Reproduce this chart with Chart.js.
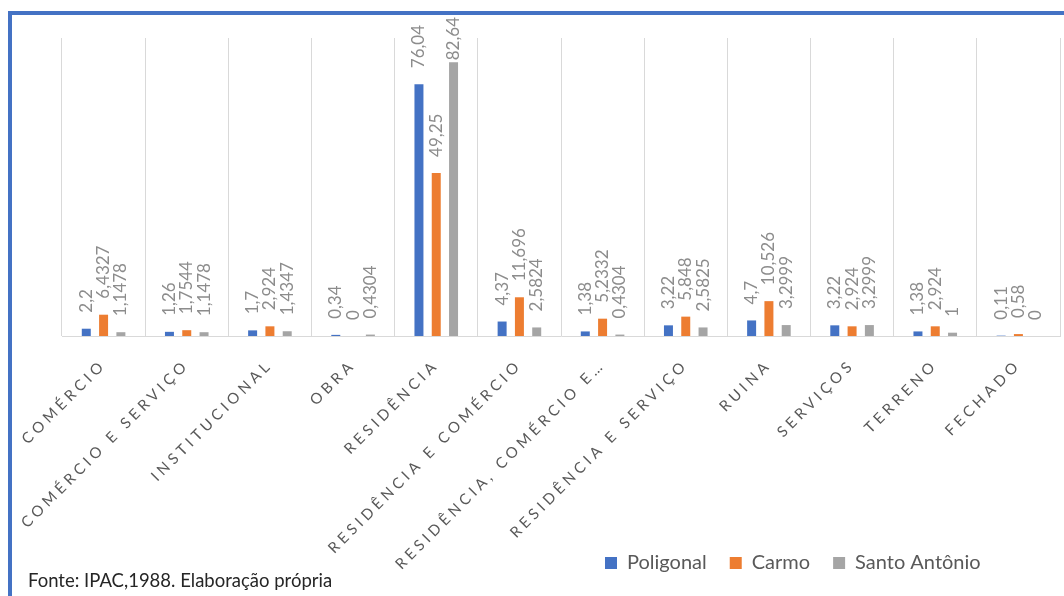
<!DOCTYPE html>
<html>
<head>
<meta charset="utf-8">
<script src="https://cdn.jsdelivr.net/npm/chart.js@4"></script>
<style>
  html, body { margin: 0; padding: 0; background: #fff; overflow: hidden; }
  #wrap { position: relative; width: 1064px; height: 596px; }
  #frame {
    position: absolute; left: 8px; top: 11px; width: 1100px; height: 640px;
    border-left: 4px solid #4472C4; border-top: 4px solid #4472C4;
    pointer-events: none;
  }
  #source {
    position: absolute; left: 28px; top: 569px;
    font-family: Lato, 'Noto Sans', sans-serif; font-size: 18.5px; color: #262626;
  }
</style>
</head>
<body>
<div id="wrap">
  <canvas id="usage-chart" width="1064" height="596"></canvas>
  <div id="frame"></div>
  <div id="source">Fonte: IPAC,1988. Elaboração própria</div>
</div>
<script>
/**
 * Uso do solo - Poligonal, Carmo e Santo Antônio (%)
 */

const categories = [
  'COMÉRCIO', 'COMÉRCIO E SERVIÇO', 'INSTITUCIONAL', 'OBRA', 'RESIDÊNCIA',
  'RESIDÊNCIA E COMÉRCIO', 'RESIDÊNCIA, COMÉRCIO E…', 'RESIDÊNCIA E SERVIÇO',
  'RUINA', 'SERVIÇOS', 'TERRENO', 'FECHADO'
];
const poligonal = [2.2, 1.26, 1.7, 0.34, 76.04, 4.37, 1.38, 3.22, 4.7, 3.22, 1.38, 0.11];
const carmo = [6.4327, 1.7544, 2.924, 0, 49.25, 11.696, 5.2332, 5.848, 10.526, 2.924, 2.924, 0.58];
const santoAntonio = [1.1478, 1.1478, 1.4347, 0.4304, 82.64, 2.5824, 0.4304, 2.5825, 3.2999, 3.2999, 1, 0];
const seriesNames = ['Poligonal', 'Carmo', 'Santo Antônio'];

const colors = {
  blue: '#4472C4',
  orange: '#ED7D31',
  gray: '#A5A5A5',
  grid: '#D9D9D9',
  axisText: '#595959',
  valueText: '#8C8C8C'
};
const fontFamily = "Lato, 'Noto Sans', sans-serif";

// category axis with spaced capitals, like the office chart style
class SpacedCategoryScale extends Chart.CategoryScale {
  _computeLabelArea() {
    return undefined; // let long labels run past the axis box
  }
  drawLabels(area) {
    const ctx = this.ctx;
    ctx.save();
    ctx.letterSpacing = '4px';
    super.drawLabels(area);
    ctx.restore();
  }
}
SpacedCategoryScale.id = 'spacedCategory';
SpacedCategoryScale.defaults = Chart.CategoryScale.defaults;
Chart.register(SpacedCategoryScale);

// value labels written vertically above each bar
const valueLabels = {
  id: 'valueLabels',
  afterDatasetsDraw(chart) {
    const ctx = chart.ctx;
    ctx.save();
    ctx.font = '17px ' + fontFamily;
    ctx.fillStyle = colors.valueText;
    ctx.textAlign = 'left';
    ctx.textBaseline = 'middle';
    chart.data.datasets.forEach((ds, i) => {
      const meta = chart.getDatasetMeta(i);
      meta.data.forEach((bar, j) => {
        const text = String(ds.data[j]).replace('.', ',');
        const w = ctx.measureText(text).width;
        let bottom = bar.y - 16;
        if (bottom - w < 17) bottom = 17 + w;
        ctx.save();
        ctx.translate(bar.x, bottom);
        ctx.rotate(-Math.PI / 2);
        ctx.fillText(text, 0, 0);
        ctx.restore();
      });
    });
    ctx.restore();
  }
};

// move legend to the lower right, as in the source figure
const legendPlace = {
  id: 'legendPlace',
  afterLayout(chart) {
    const lg = chart.legend;
    const pad = lg.options.labels.padding;
    lg.left = 605 - pad;
    lg.right = chart.width;
    lg.top = 563 - pad - 10;
    lg.bottom = lg.top + lg.height;
  }
};

const chartHeight = 596;
const plotBottom = 336;
const padBottom = 4;

new Chart(document.getElementById('usage-chart'), {
  type: 'bar',
  data: {
    labels: categories,
    datasets: [
      { label: seriesNames[0], data: poligonal, backgroundColor: colors.blue },
      { label: seriesNames[1], data: carmo, backgroundColor: colors.orange },
      { label: seriesNames[2], data: santoAntonio, backgroundColor: colors.gray }
    ]
  },
  options: {
    responsive: false,
    animation: false,
    categoryPercentage: 0.624,
    barPercentage: 0.52,
    layout: { padding: { left: 62, top: 38, right: 4, bottom: padBottom } },
    plugins: {
      legend: {
        position: 'bottom',
        align: 'start',
        labels: {
          boxWidth: 12,
          boxHeight: 12,
          padding: 23,
          color: colors.axisText,
          font: { family: fontFamily, size: 20 }
        }
      },
      tooltip: { enabled: false }
    },
    scales: {
      x: {
        type: 'spacedCategory',
        grid: { color: colors.grid, lineWidth: 1, drawTicks: false },
        border: { display: true, color: colors.grid, width: 1 },
        ticks: {
          color: colors.axisText,
          font: { family: fontFamily, size: 15 },
          minRotation: 45,
          maxRotation: 45,
          autoSkip: false,
          padding: 20
        },
        afterFit(scale) {
          scale.height = chartHeight - plotBottom - padBottom - scale.chart.legend.height;
        }
      },
      y: {
        display: false,
        min: 0,
        max: 90
      }
    }
  },
  plugins: [valueLabels, legendPlace]
});
</script>
</body>
</html>
